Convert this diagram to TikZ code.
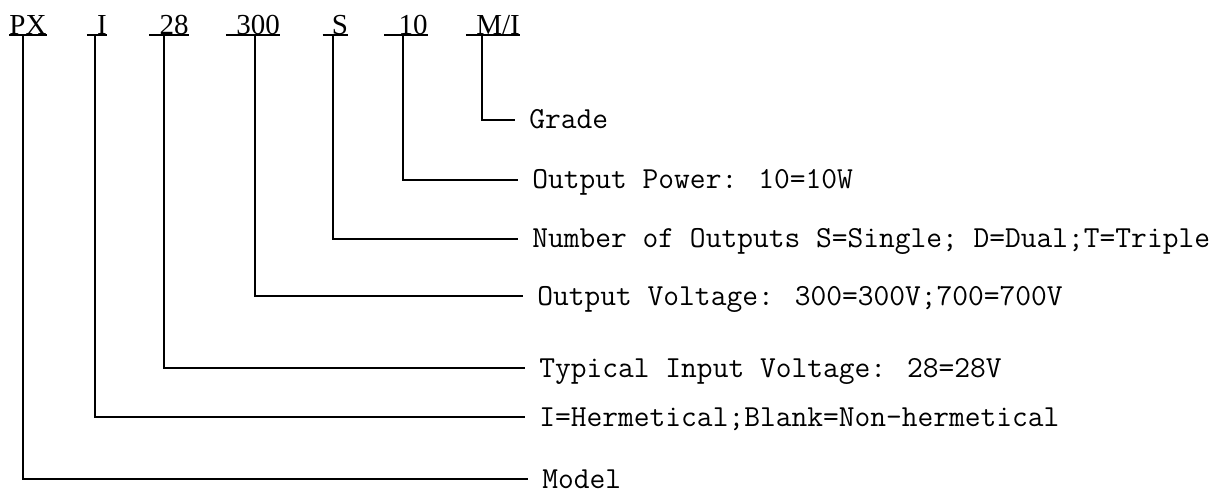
\documentclass[tikz,border=0pt]{standalone}
\usepackage{fontspec}
\setmainfont{Liberation Serif}
\begin{document}
\begin{tikzpicture}[
  x=0.5pt, y=-0.5pt,
  code/.style={anchor=base, inner sep=0pt, font=\fontsize{14.5}{16}\selectfont},
  desc/.style={anchor=west, inner xsep=7pt, inner ysep=0pt, text height=9pt, text depth=0pt, font=\ttfamily\fontsize{15.3}{17}\selectfont},
  leader/.style={line width=1pt},
  uline/.style={line width=0.6pt}
]
  \useasboundingbox (0,0) rectangle (1216,492);

  % Type code (top row)
  \node[code] (px) at (28,35) {PX};
  \node[code] (herm) at (102,35) {I};
  \node[code] (vin) at (174,35) {28};
  \node[code] (vout) at (258,35) {300};
  \node[code] (nout) at (340,35) {S};
  \node[code] (pow) at (413,35) {10};
  \node[code] (grd) at (498,35) {M/I};

  % Underlines
  \draw[uline] (px.base west) -- (px.base east);
  \draw[uline] ([xshift=-5pt]herm.base west) -- (herm.base east);
  \draw[uline] ([xshift=-5pt]vin.base west) -- (vin.base east);
  \draw[uline] ([xshift=-5pt]vout.base west) -- (vout.base east);
  \draw[uline] ([xshift=-4.5pt]nout.base west) -- (nout.base east);
  \draw[uline] ([xshift=-7pt]pow.base west) -- (pow.base east);
  \draw[uline] ([xshift=-5pt]grd.base west) -- (grd.base east);

  % Tops of the leaders
  \coordinate (tpx) at (23,35);
  \coordinate (therm) at (95,35);
  \coordinate (tvin) at (164,35);
  \coordinate (tvout) at (255,35);
  \coordinate (tnout) at (333,35);
  \coordinate (tpow) at (403,35);
  \coordinate (tgrd) at (482,35);

  % Descriptions
  \node[desc] (grade) at (515,120) {Grade};
  \node[desc] (power) at (518,180) {Output Power: 10=10W};
  \node[desc] (outs) at (518,239) {Number of Outputs S=Single; D=Dual;T=Triple};
  \node[desc] (volt) at (523,296) {Output Voltage: 300=300V;700=700V};
  \node[desc] (input) at (525,368) {Typical Input Voltage: 28=28V};
  \node[desc] (seal) at (525,417) {I=Hermetical;Blank=Non-hermetical};
  \node[desc] (model) at (528,479) {Model};

  % Leaders
  \draw[leader] (tgrd) |- (grade.west);
  \draw[leader] (tpow) |- (power.west);
  \draw[leader] (tnout) |- (outs.west);
  \draw[leader] (tvout) |- (volt.west);
  \draw[leader] (tvin) |- (input.west);
  \draw[leader] (therm) |- (seal.west);
  \draw[leader] (tpx) |- (model.west);
\end{tikzpicture}
\end{document}
